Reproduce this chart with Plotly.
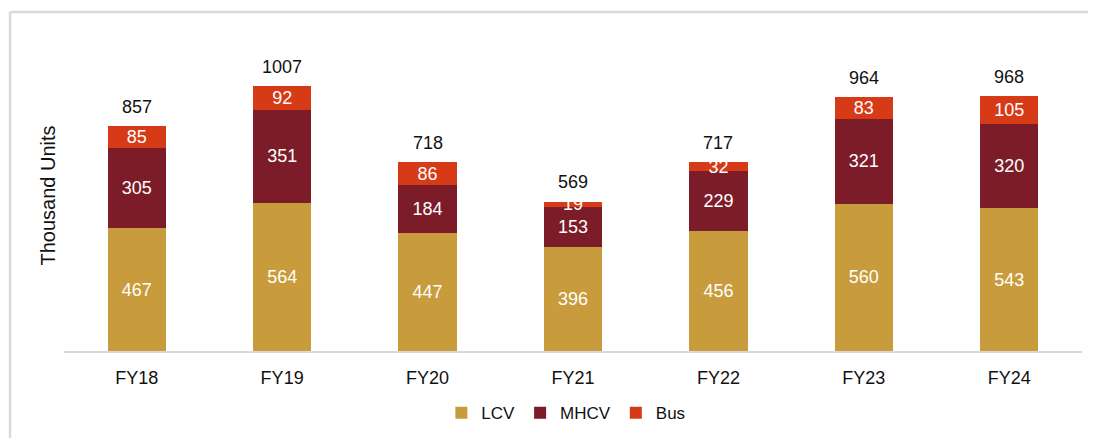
import plotly.graph_objects as go

categories = ["FY18", "FY19", "FY20", "FY21", "FY22", "FY23", "FY24"]
lcv = [467, 564, 447, 396, 456, 560, 543]
mhcv = [305, 351, 184, 153, 229, 321, 320]
bus = [85, 92, 86, 19, 32, 83, 105]
totals = [857, 1007, 718, 569, 717, 964, 968]

FONT = "Liberation Sans, Arial, sans-serif"
colors = {"LCV": "#C89B3C", "MHCV": "#7B1C28", "Bus": "#D63A17"}

fig = go.Figure()
for name, vals in [("LCV", lcv), ("MHCV", mhcv), ("Bus", bus)]:
    fig.add_trace(go.Bar(
        x=categories, y=vals, name=name,
        marker=dict(color=colors[name], line=dict(width=0)),
        text=[str(v) for v in vals], textposition="inside",
        insidetextanchor="middle", textangle=0,
        textfont=dict(color="white", size=18, family=FONT),
        cliponaxis=False,
    ))

for c, t in zip(categories, totals):
    fig.add_annotation(x=c, y=t, text=str(t), showarrow=False, yanchor="bottom",
                       yshift=7, font=dict(color="#111", size=18, family=FONT))

# border lines (light gray frame on top and left)
fig.add_shape(type="line", xref="paper", yref="paper", x0=-0.053, x1=1.1, y0=1.09, y1=1.09,
              line=dict(color="#d9d9d9", width=2.5))
fig.add_shape(type="line", xref="paper", yref="paper", x0=-0.053, x1=-0.053, y0=1.09, y1=-0.35,
              line=dict(color="#d9d9d9", width=2.5))

fig.update_layout(
    width=1096, height=438,
    barmode="stack", bargap=0.6,
    margin=dict(l=56, r=22, t=32, b=95),
    plot_bgcolor="white", paper_bgcolor="white",
    font=dict(family=FONT, color="#111", size=18),
    uniformtext=dict(minsize=18, mode="show"),
    showlegend=True,
    legend=dict(orientation="h", x=0.493, xanchor="center", y=-0.2, yanchor="middle",
                font=dict(size=17, family=FONT), itemwidth=30, traceorder="normal",
                tracegroupgap=0),
    xaxis=dict(showline=True, linecolor="#d9d9d9", linewidth=1.5, ticks="outside",
               ticklen=10, tickcolor="rgba(0,0,0,0)", tickfont=dict(size=18, family=FONT),
               showgrid=False),
    yaxis=dict(range=[0, 1182], showticklabels=False, showgrid=False, zeroline=False,
               showline=False, title=dict(text="Thousand Units", font=dict(size=20, family=FONT),
                                          standoff=2)),
)

fig.write_html("out.html")
